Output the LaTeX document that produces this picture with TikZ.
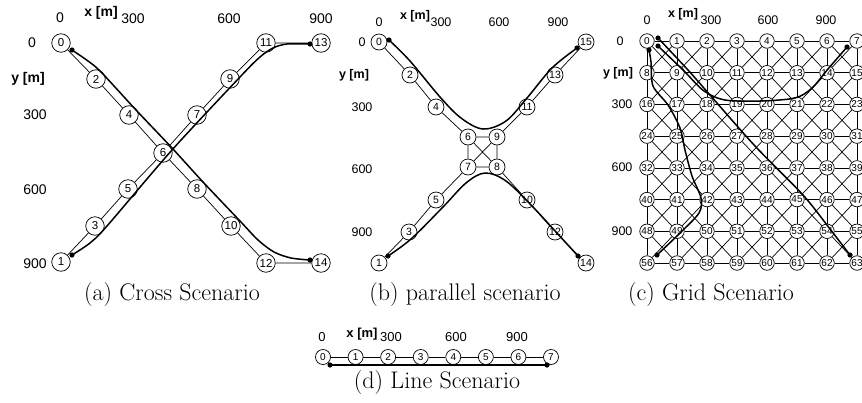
\documentclass[tikz,border=0pt]{standalone}
\usepackage{fontspec}
\newfontfamily\hv{Liberation Sans}
\tikzset{
  nbase/.style={circle, draw, line width=0.7pt, fill=white, inner sep=0pt},
  nda/.style={nbase, minimum size=18.5pt, font=\hv\fontsize{11.5}{13}\selectfont},
  ndb/.style={nbase, minimum size=16pt, font=\hv\fontsize{10.5}{12}\selectfont},
  ndc/.style={nbase, minimum size=14.5pt, font=\hv\fontsize{10}{11}\selectfont},
  ndd/.style={nbase, minimum size=15pt, font=\hv\fontsize{10}{11}\selectfont},
  edge/.style={line width=0.7pt},
  traj/.style={line width=1.5pt, line cap=round, line join=round},
  laba/.style={inner sep=0pt, font=\hv\fontsize{14}{16}\selectfont},
  labb/.style={inner sep=0pt, font=\hv\fontsize{12.5}{14}\selectfont},
  labd/.style={inner sep=0pt, font=\hv\fontsize{13}{15}\selectfont},
  capt/.style={inner sep=0pt, font=\fontsize{24}{28}\selectfont},
}
\newcommand{\tdot}[1]{\fill (#1) circle[radius=2.6pt];}
\begin{document}
\begin{tikzpicture}[x=1pt,y=-1pt]
\useasboundingbox (0,0) rectangle (862,402);

% ---------------- panel (a) ----------------
\node[laba] (ax0) at (60,18) {0};
\node[laba] (axm) at (101,13) {\bfseries x [m]};
\node[laba] (ax300) at (133,19) {300};
\node[laba] (ax600) at (229,19) {600};
\node[laba] (ax900) at (321,19) {900};
\node[laba] (ay0) at (32,43) {0};
\node[laba] (aym) at (28,79) {\bfseries y [m]};
\node[laba] (ay300) at (35,115) {300};
\node[laba] (ay600) at (35,190) {600};
\node[laba] (ay900) at (35,264) {900};

\node[nda] (a0) at (61,43) {0};
\node[nda] (a2) at (96,79) {2};
\node[nda] (a4) at (129,115) {4};
\node[nda] (a6) at (163,153) {6};
\node[nda] (a8) at (197,189) {8};
\node[nda] (a10) at (231,226) {10};
\node[nda] (a12) at (266,263) {12};
\node[nda] (a14) at (321,263) {14};
\node[nda] (a1) at (61,262) {1};
\node[nda] (a3) at (95,226) {3};
\node[nda] (a5) at (128,189) {5};
\node[nda] (a7) at (197,115) {7};
\node[nda] (a9) at (230,79) {9};
\node[nda] (a11) at (266,43) {11};
\node[nda] (a13) at (321,43) {13};
\draw[edge] (a0)--(a2) (a2)--(a4) (a4)--(a6) (a6)--(a8) (a8)--(a10) (a10)--(a12) (a12)--(a14);
\draw[edge] (a1)--(a3) (a3)--(a5) (a5)--(a6) (a6)--(a7) (a7)--(a9) (a9)--(a11) (a11)--(a13);

\coordinate (ta1) at (72,50);
\coordinate (ta2) at (310,260);
\coordinate (ta3) at (72,255);
\coordinate (ta4) at (310,44);
\draw[traj] plot[smooth, tension=0.5] coordinates {(ta1) (88,61) (101,72) (136,110) (172,148) (203,182) (240,221) (258,240) (274,252) (291,258) (ta2)};
\draw[traj] plot[smooth, tension=0.5] coordinates {(ta3) (90,243) (107,226) (172,150) (240,77) (260,57) (273,48) (287,44) (ta4)};
\tdot{ta1}\tdot{ta2}\tdot{ta3}\tdot{ta4}
\node[capt] (capa) at (172,295) {(a) Cross Scenario};

% ---------------- panel (b) ----------------
\node[labb] (bx0) at (379,22) {0};
\node[labb] (bxm) at (415,16) {\bfseries x [m]};
\node[labb] (bx300) at (441,22) {300};
\node[labb] (bx600) at (499,22) {600};
\node[labb] (bx900) at (558,22) {900};
\node[labb] (by0) at (362,42) {0};
\node[labb] (bym) at (354,75) {\bfseries y [m]};
\node[labb] (by300) at (362,107) {300};
\node[labb] (by600) at (362,169) {600};
\node[labb] (by900) at (362,232) {900};

\node[ndb] (b0) at (379,42) {0};
\node[ndb] (b2) at (410,75) {2};
\node[ndb] (b4) at (436,107) {4};
\node[ndb] (b6) at (468,137) {6};
\node[ndb] (b9) at (497,137) {9};
\node[ndb] (b11) at (527,107) {11};
\node[ndb] (b13) at (555,75) {13};
\node[ndb] (b15) at (586,42) {15};
\node[ndb] (b7) at (468,167) {7};
\node[ndb] (b8) at (497,167) {8};
\node[ndb] (b5) at (436,200) {5};
\node[ndb] (b3) at (409,232) {3};
\node[ndb] (b1) at (379,263) {1};
\node[ndb] (b10) at (527,200) {10};
\node[ndb] (b12) at (555,232) {12};
\node[ndb] (b14) at (586,263) {14};
\draw[edge] (b0)--(b2) (b2)--(b4) (b4)--(b6) (b6)--(b9) (b9)--(b11) (b11)--(b13) (b13)--(b15);
\draw[edge] (b6)--(b7) (b9)--(b8) (b6)--(b8) (b7)--(b9) (b7)--(b8);
\draw[edge] (b7)--(b5) (b5)--(b3) (b3)--(b1) (b8)--(b10) (b10)--(b12) (b12)--(b14);

\coordinate (tb1) at (389,40);
\coordinate (tb2) at (577,48);
\coordinate (tb3) at (388,256);
\coordinate (tb4) at (578,256);
\draw[traj] plot[smooth, tension=0.55] coordinates {(tb1) (410,61) (440,97) (461,118) (483,129) (506,121) (527,98) (552,68) (tb2)};
\draw[traj] plot[smooth, tension=0.55] coordinates {(tb3) (411,239) (443,207) (466,183) (485,173) (506,181) (532,206) (556,232) (tb4)};
\tdot{tb1}\tdot{tb2}\tdot{tb3}\tdot{tb4}
\node[capt] (capb) at (465,295) {(b) parallel scenario};

% ---------------- panel (c) ----------------
\node[labb] (cx0) at (647,20) {0};
\node[labb] (cxm) at (683,14) {\bfseries x [m]};
\node[labb] (cx300) at (711,20) {300};
\node[labb] (cx600) at (768,20) {600};
\node[labb] (cx900) at (826,20) {900};
\node[labb] (cy0) at (620,41) {0};
\node[labb] (cym) at (618,73) {\bfseries y [m]};
\node[labb] (cy300) at (622,104) {300};
\node[labb] (cy600) at (622,167) {600};
\node[labb] (cy900) at (622,231) {900};

\foreach \j in {0,...,7}{
  \foreach \i in {0,...,7}{
    \pgfmathtruncatemacro\ga{8*\j+\i}
    \node[ndc] (c\ga) at ({647+30*\i},{41+31.714*\j}) {\ga};
  }}
\foreach \j in {0,...,7}{
  \foreach \i in {0,...,6}{
    \pgfmathtruncatemacro\ga{8*\j+\i}
    \pgfmathtruncatemacro\gb{\ga+1}
    \draw[edge] (c\ga)--(c\gb);
  }}
\foreach \j in {0,...,6}{
  \foreach \i in {0,...,7}{
    \pgfmathtruncatemacro\ga{8*\j+\i}
    \pgfmathtruncatemacro\gb{\ga+8}
    \draw[edge] (c\ga)--(c\gb);
  }}
\foreach \j in {0,...,6}{
  \foreach \i in {0,...,6}{
    \pgfmathtruncatemacro\ga{8*\j+\i}
    \pgfmathtruncatemacro\gb{\ga+9}
    \pgfmathtruncatemacro\gc{\ga+1}
    \pgfmathtruncatemacro\gd{\ga+8}
    \draw[edge] (c\ga)--(c\gb) (c\gc)--(c\gd);
  }}

\coordinate (tc1) at (658,38);
\coordinate (tc2) at (850,255);
\coordinate (tc3) at (658,46);
\coordinate (tc4) at (847,47);
\coordinate (tc5) at (649,50);
\coordinate (tc6) at (657,255);
\draw[traj] plot[smooth, tension=0.5] coordinates {(tc1) (688,70) (710,95) (755,146) (803,195) (830,229) (tc2)};
\draw[traj] plot[smooth, tension=0.5] coordinates {(tc3) (684,71) (704,91) (725,100) (760,101) (795,98) (812,88) (828,69) (tc4)};
\draw[traj] plot[smooth, tension=0.5] coordinates {(tc5) (651,62) (653,86) (668,105) (680,128) (685,150) (692,176) (701,198) (699,213) (680,233) (tc6)};
\tdot{tc1}\tdot{tc2}\tdot{tc3}\tdot{tc4}\tdot{tc5}\tdot{tc6}
\node[capt] (capc) at (711,295) {(c) Grid Scenario};

% ---------------- panel (d) ----------------
\node[labd] (dx0) at (322,337) {0};
\node[labd] (dxm) at (362,334) {\bfseries x [m]};
\node[labd] (dx300) at (391,337) {300};
\node[labd] (dx600) at (456,337) {600};
\node[labd] (dx900) at (517,337) {900};
\foreach \i in {0,...,7}{
  \node[ndd] (d\i) at ({323+32.57*\i},357) {\i};
}
\foreach \i in {0,...,6}{
  \pgfmathtruncatemacro\gb{\i+1}
  \draw[edge] (d\i)--(d\gb);
}
\coordinate (td1) at (330,365);
\coordinate (td2) at (547,365);
\draw[traj] (td1)--(td2);
\tdot{td1}\tdot{td2}
\node[capt] (capd) at (437,383) {(d) Line Scenario};
\end{tikzpicture}
\end{document}
